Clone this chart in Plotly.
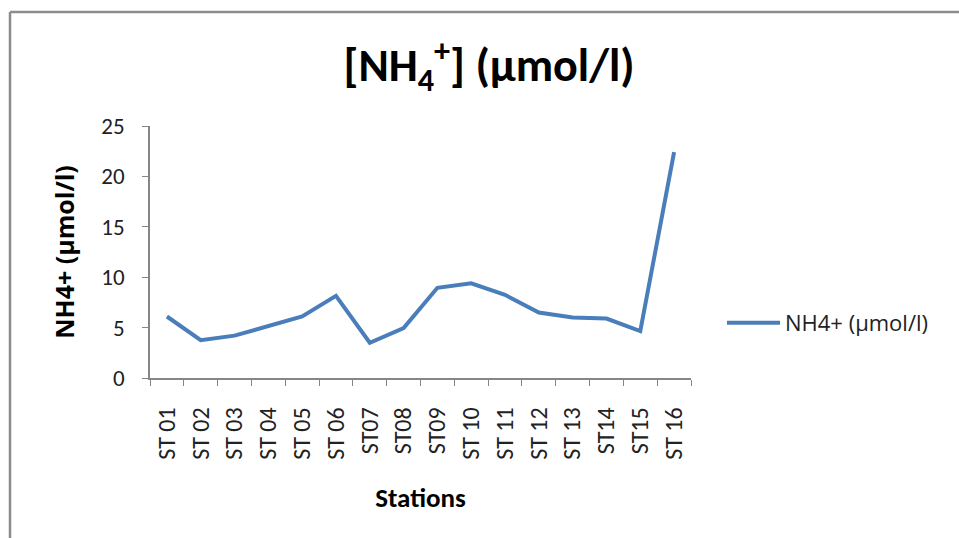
import plotly.graph_objects as go

stations = ["ST 01", "ST 02", "ST 03", "ST 04", "ST 05", "ST 06", "ST07", "ST08",
            "ST09", "ST 10", "ST 11", "ST 12", "ST 13", "ST14", "ST15", "ST 16"]
nh4 = [6.1, 3.75, 4.2, 5.2, 6.1, 8.15, 3.5, 4.95, 8.95, 9.4, 8.25, 6.5, 6.0, 5.9, 4.65, 22.4]
series_name = "NH4+ (µmol/l)"
y_ticks = [0, 5, 10, 15, 20, 25]

NARROW = "Carlito, Lato, sans-serif"
WIDE = "Open Sans, sans-serif"
W, H = 959, 538
L, R, T, B = 150, 691, 126, 378
pw, ph = R - L, B - T

def px(x):
    return (x - L) / pw

def py(y):
    return (B - y) / ph

fig = go.Figure()
fig.add_trace(go.Scatter(
    x=stations, y=nh4, mode="lines", name=series_name,
    line=dict(color="#4A7EBB", width=4),
))

fig.update_layout(
    width=W, height=H,
    margin=dict(l=L, r=W - R, t=T, b=H - B),
    paper_bgcolor="white", plot_bgcolor="white",
    font=dict(family=NARROW, color="#000000"),
    title=dict(text="<b>[NH<sub>4</sub><sup>+</sup>] (µmol/l)</b>",
               x=px(489), xref="paper", xanchor="center",
               y=1 - 65 / H, yanchor="middle",
               font=dict(size=46, family=NARROW)),
    showlegend=True,
    legend=dict(x=px(722), y=py(323), xanchor="left", yanchor="middle",
                font=dict(size=22, family=WIDE, color="#222222"),
                bgcolor="rgba(0,0,0,0)", itemwidth=53),
    xaxis=dict(
        type="category", tickangle=-90, tickson="boundaries",
        ticks="outside", ticklen=6, tickcolor="#868686",
        showline=True, linecolor="#868686", linewidth=1.5,
        showgrid=False, zeroline=False, ticklabelstandoff=18,
        tickfont=dict(size=24, family=NARROW, color="#222222"),
        title=dict(text="<b>Stations</b>", font=dict(size=27, family=NARROW), standoff=29),
        range=[-0.5, len(stations) - 0.5],
    ),
    yaxis=dict(
        range=[0, 25], tickvals=y_ticks,
        ticks="outside", ticklen=6, tickcolor="#868686",
        showline=True, linecolor="#868686", linewidth=1.5,
        showgrid=False, zeroline=False, ticklabelstandoff=13,
        tickfont=dict(size=23, family=NARROW, color="#222222"),
        title=dict(text="<b>NH4+ (µmol/l)</b>", font=dict(size=25, family=WIDE), standoff=20),
    ),
    shapes=[
        dict(type="line", xref="paper", yref="paper",
             x0=px(10), x1=px(10), y0=py(12), y1=py(560),
             line=dict(color="#8C8C8C", width=2.5)),
        dict(type="line", xref="paper", yref="paper",
             x0=px(10), x1=px(980), y0=py(12), y1=py(12),
             line=dict(color="#8C8C8C", width=2.5)),
    ],
)

fig.write_html("out.html", config={"displayModeBar": False},
               post_script="document.body.style.margin='0';document.body.style.overflow='hidden';")
